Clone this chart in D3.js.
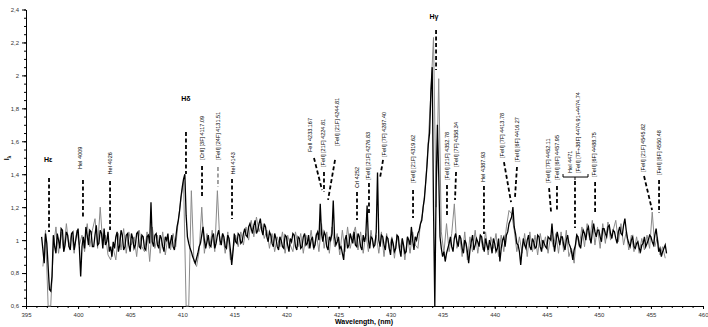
<!DOCTYPE html>
<html><head><meta charset="utf-8">
<script src="https://cdn.jsdelivr.net/npm/d3@7"></script>
<style>
body{margin:0;background:#fff}
svg{display:block;font-family:"Liberation Sans",Arial,sans-serif}
</style>
</head><body>
<svg id="chart" width="708" height="327"></svg>
<script>
// ---------- data ----------
const xMajorTicks = [395,400,405,410,415,420,425,430,435,440,445,450,455,460];
const yMajorTicks = [0.6,0.8,1.0,1.2,1.4,1.6,1.8,2.0,2.2,2.4];
const xLabel = "Wavelength, (nm)";

// black spectrum, read at 396.5 + 0.25·i nm
const blackStart = 396.5, blackStep = 0.25;
const blackValues = [
1.02,0.86,0.98,0.70,
0.78,0.96,1.04,0.95,
1.06,0.97,1.03,0.94,
1.05,0.99,1.07,0.78,
1.02,1.08,0.97,1.05,
0.96,1.09,0.98,1.04,
1.07,0.99,0.93,0.90,
0.95,1.05,0.97,1.03,
0.96,1.04,0.93,1.01,
0.97,1.05,0.95,1.02,
0.94,1.03,1.23,0.96,
1.04,0.95,1.01,0.93,
1.00,0.95,1.03,0.94,
1.08,1.18,1.32,1.40,
1.02,0.95,0.90,0.86,
0.92,0.98,1.08,0.95,
1.03,0.96,1.04,0.98,
1.06,0.97,1.02,0.95,
1.01,0.85,1.04,0.98,
1.03,0.99,1.07,1.02,
1.10,1.04,1.12,1.06,
1.13,1.03,1.08,0.99,
1.03,0.96,1.01,0.94,
1.00,0.95,1.02,0.93,
0.99,1.03,0.94,1.01,
0.96,1.04,0.98,0.95,
1.02,0.97,1.05,1.22,
0.99,1.03,0.94,1.00,
1.24,0.97,1.02,0.96,
0.88,1.03,0.97,1.01,
1.05,0.96,1.02,0.94,
0.99,1.21,0.95,1.01,
0.97,1.41,0.96,1.02,
0.94,1.01,0.91,0.98,
0.95,1.02,0.90,0.97,
0.93,1.00,1.08,0.94,
1.00,1.06,1.12,1.25,
1.45,1.65,2.05,0.60,
1.70,1.02,0.90,0.87,
0.95,1.02,0.93,1.04,
0.96,1.01,0.92,0.98,
0.86,0.99,0.94,1.01,
0.96,1.02,0.93,0.97,
1.00,0.92,0.98,0.95,
0.87,1.00,0.96,1.05,
1.12,1.20,1.04,0.97,
0.85,1.01,0.95,1.03,
0.94,0.99,0.96,1.02,
0.93,0.98,0.95,1.01,
1.10,0.93,1.05,0.97,
1.02,0.94,1.03,0.96,
0.88,0.97,1.02,0.95,
1.06,1.00,1.08,0.98,
1.10,1.02,1.06,0.99,
1.07,1.02,1.09,1.01,
1.05,0.98,1.08,1.03,
1.13,1.01,0.96,1.02,
0.95,0.99,0.93,0.98,
0.96,1.00,1.02,0.97,
1.07,0.93,0.90,0.95,
0.92
];
// black spectrum, read half-way between the samples above (396.625 + 0.25·i nm)
const blackBetween = [
0.94,1.04,0.84,0.69,
1.03,0.92,1.00,1.07,
0.93,1.05,0.96,1.04,
0.94,1.04,0.95,0.96,
0.95,1.03,1.06,0.96,
1.03,0.97,1.06,0.95,
0.97,1.05,0.96,0.99,
1.02,0.93,1.06,0.94,
1.03,0.97,1.04,0.95,
1.04,0.96,1.03,0.95,
1.02,0.98,0.99,1.03,
0.97,1.03,0.96,1.02,
1.04,0.99,0.96,1.01,
1.12,1.26,1.37,1.15,
0.98,0.93,0.88,0.89,
0.96,1.03,1.00,0.99,
0.97,1.02,0.95,1.03,
1.00,1.04,0.96,1.03,
0.94,0.93,0.99,1.04,
0.98,1.04,1.03,1.08,
1.07,1.09,1.04,1.10,
1.06,1.10,1.02,1.05,
0.98,1.04,0.96,1.02,
0.96,1.03,0.97,1.01,
1.04,0.96,1.02,0.95,
1.02,0.97,1.03,1.00,
0.95,1.03,1.00,1.04,
1.05,0.96,1.02,1.04,
1.02,0.99,0.95,0.92,
1.00,0.95,1.04,0.98,
0.97,1.04,0.96,1.03,
1.03,1.00,1.02,0.96,
1.05,1.00,1.03,0.97,
1.02,0.95,1.01,0.93,
1.03,0.94,1.01,0.92,
1.02,0.97,1.00,1.02,
1.04,1.10,1.20,1.35,
1.58,1.90,1.20,1.30,
1.40,0.95,0.93,0.92,
0.98,0.96,1.01,0.99,
1.03,0.95,1.00,0.93,
0.94,1.03,0.97,0.99,
1.03,0.96,1.01,0.94,
0.97,1.01,0.93,1.01,
0.95,1.02,1.03,1.10,
1.14,1.08,0.98,0.93,
0.94,0.97,1.00,0.96,
1.01,0.95,1.03,0.96,
1.00,0.96,1.02,1.00,
1.00,0.99,1.01,1.02,
0.97,1.00,0.98,0.93,
0.94,1.03,0.97,1.02,
1.04,1.06,1.02,1.05,
1.05,1.06,1.02,1.07,
1.04,1.08,1.04,1.06,
1.01,1.05,1.04,1.09,
1.06,0.98,1.00,0.96,
0.98,0.95,0.97,1.02,
0.98,1.03,0.99,1.03,
1.00,0.95,0.93,0.97
];

// grey spectrum, read at 396.625 + 0.25·i nm
const greyStart = 396.625, greyStep = 0.25;
const greyValues = [
0.84,1.06,0.60,0.60,
0.95,1.08,0.92,1.05,
0.93,1.10,0.96,1.04,
0.92,1.06,0.97,1.03,
0.93,1.10,0.96,1.06,
1.13,0.95,1.20,0.97,
1.03,0.91,0.88,0.95,
0.88,1.04,0.94,1.07,
0.92,1.05,0.97,1.02,
0.90,1.06,0.96,0.93,
1.05,0.87,1.08,0.95,
1.03,0.92,1.05,0.91,
1.02,0.94,1.04,0.96,
1.12,1.25,1.36,0.60,
0.60,1.30,0.87,0.84,
0.93,1.20,0.92,1.04,
0.95,1.06,0.93,1.30,
0.97,1.04,0.92,1.05,
0.88,0.94,1.03,0.96,
1.05,0.97,1.08,1.00,
1.12,1.02,1.14,1.05,
1.10,1.01,1.06,0.95,
1.04,0.93,1.02,0.96,
1.05,0.92,1.03,0.97,
0.93,1.05,0.96,1.04,
0.92,1.03,0.95,1.06,
0.94,1.04,0.93,1.10,
0.95,1.05,0.92,1.08,
0.96,1.04,0.91,1.06,
0.93,1.08,0.95,1.03,
1.08,0.94,1.05,0.92,
1.04,0.93,1.06,0.95,
1.03,0.92,1.05,0.90,
1.04,0.95,1.02,0.89,
1.03,0.94,1.01,0.88,
1.02,0.92,1.05,0.97,
0.95,1.10,1.18,1.35,
1.60,1.90,2.23,1.20,
1.98,1.05,0.92,1.10,
0.93,1.04,1.22,0.95,
1.03,0.90,1.05,0.88,
1.02,0.93,1.06,0.92,
1.03,0.94,1.05,0.91,
1.02,0.95,1.04,0.90,
1.03,0.93,1.08,1.18,
1.16,1.06,0.93,1.02,
0.92,1.04,0.90,1.05,
0.93,1.03,0.91,1.04,
0.95,1.02,0.92,1.03,
0.96,1.04,0.92,1.05,
0.93,1.06,0.90,0.95,
0.86,1.04,0.96,1.08,
0.96,1.10,1.00,1.12,
0.97,1.08,0.95,1.10,
0.98,1.11,1.00,1.06,
1.12,0.99,1.10,0.97,
1.05,0.94,1.03,0.93,
1.02,0.92,1.01,0.94,
1.03,0.95,1.17,0.96,
1.02,0.91,0.96,0.89
];

// line identifications
const lineNames = [
"Hε","HeI 4009","HeI 4026","Hδ","[CrII] [3F] 4117.09","[FeII] [24F] 4131.51","HeI 4143",
"FeII 4233.167","[FeII] [21F] 4224.81","[FeII] [21F] 4244.81","CrI 4252","[FeII] [21F] 4276.83",
"[FeII] [7F] 4287.40","[FeII] [21F] 4319.62","Hγ","[FeII] [21F] 4352.78","[FeII] [7F] 4358.34",
"HeI 4387.93","[FeII] [7F] 4413.78","[FeII] [6F] 4416.27","[FeII] [7F] 4452.11","[FeII] [6F] 4457.95",
"HeI 4471","[FeII] [7F+38F] 4474.91+4474.74","[FeII] [6F] 4488.75","[FeII] [21F] 4545.82","[FeII] [6F] 4550.48"
];

// ---------- annotation layout (data units: wavelength, intensity) ----------
// [textλ, textI, horizontal?, line λ1, I1, λ2, I2, grey?]
const annLayout = [
[397.12,1.474,1, 397.21,1.377,397.21,1.049,0],
[400.23,1.432,0, 400.47,1.365,400.47,1.140,0],
[403.11,1.398,0, 403.07,1.359,403.07,1.061,0],
[410.36,1.845,1, 410.36,1.657,410.36,1.402,0],
[411.90,1.487,0, 411.90,1.450,411.90,1.262,0],
[413.43,1.487,0, 413.43,1.444,413.43,1.323,1],
[414.88,1.398,0, 414.78,1.371,414.78,1.128,0],
[422.26,1.535,0, 422.65,1.499,423.42,1.304,0],
[423.52,1.444,0, 423.61,1.414,423.61,1.292,0],
[424.86,1.572,0, 424.67,1.487,424.00,1.244,0],
[426.78,1.316,0, 426.78,1.292,426.78,1.122,0],
[427.84,1.365,0, 427.93,1.347,427.93,1.165,0],
[429.37,1.505,0, 429.28,1.487,428.99,1.377,0],
[432.16,1.347,0, 432.16,1.304,432.16,1.134,0],
[434.17,2.343,1, 434.37,2.276,434.37,2.033,0],
[435.42,1.365,0, 435.42,1.335,435.42,1.146,0],
[436.29,1.444,0, 436.29,1.414,436.19,1.244,0],
[438.88,1.353,0, 438.97,1.329,438.97,1.037,0],
[440.70,1.499,0, 440.89,1.474,441.57,1.231,0],
[442.14,1.474,0, 442.14,1.444,441.95,1.262,0],
[445.12,1.347,0, 445.22,1.316,445.41,1.171,0],
[445.98,1.365,0, 445.98,1.329,445.98,1.171,0],
[447.23,1.408,0, null,null,null,null,0],
[448.00,1.408,0, 447.71,1.359,447.71,1.074,0],
[449.54,1.383,0, 449.64,1.353,449.64,1.165,0],
[454.24,1.414,0, 454.34,1.389,455.11,1.183,0],
[455.78,1.395,0, 455.78,1.365,455.78,1.165,0]
];
const braceLayout = [446.56, 448.96, 1.383, 447.71];

// ---------- drawing ----------
const svg = d3.select("#chart");
const x = d3.scaleLinear().domain([395,460]).range([26,703]);
const y = d3.scaleLinear().domain([0.6,2.4]).range([306,9.5]);

const fmtY = d => String(+d.toFixed(1)).replace(".", ",");

const xMinor = d3.range(395,461,1);
const yMinor = d3.range(0.6,2.4001,0.05).map(v=>+v.toFixed(2));

svg.append("g").attr("transform","translate(0,306)")
  .call(d3.axisBottom(x).tickValues(xMinor).tickSize(2).tickFormat("").tickSizeOuter(0))
  .call(g=>g.select(".domain").remove());
svg.append("g").attr("transform","translate(26,0)")
  .call(d3.axisLeft(y).tickValues(yMinor).tickSize(2).tickFormat("").tickSizeOuter(0))
  .call(g=>g.select(".domain").remove());

const gx = svg.append("g").attr("transform","translate(0,306)")
  .call(d3.axisBottom(x).tickValues(xMajorTicks).tickSize(3).tickPadding(4).tickSizeOuter(0).tickFormat(d=>d));
const gy = svg.append("g").attr("transform","translate(26,0)")
  .call(d3.axisLeft(y).tickValues(yMajorTicks).tickSize(4).tickPadding(3).tickSizeOuter(0).tickFormat(fmtY));
[gx,gy].forEach(g=>{
  g.selectAll("text").attr("font-size",6).attr("fill","#333").attr("font-family","Liberation Sans, Arial, sans-serif");
  g.selectAll("line,path").attr("stroke","#000");
});

// spectra
const greyPts = greyValues.map((v,i)=>[greyStart+i*greyStep, v]);
const blackPts = [];
blackValues.forEach((v,i)=>{
  blackPts.push([blackStart+i*blackStep, v]);
  if (i < blackBetween.length) blackPts.push([blackStart+(i+0.5)*blackStep, blackBetween[i]]);
});
const line = d3.line().x(d=>x(d[0])).y(d=>y(d[1]));
svg.append("path").attr("d",line(greyPts)).attr("fill","none").attr("stroke","#8a8a8a").attr("stroke-width",1);
svg.append("path").attr("d",line(blackPts)).attr("fill","none").attr("stroke","#000").attr("stroke-width",1.3);

// annotations
const ann = svg.append("g");
annLayout.forEach((a,i)=>{
  const [tl,tv,hor,l1,v1,l2,v2,grey] = a;
  if (l1 !== null) {
    ann.append("line")
      .attr("x1",x(l1)).attr("y1",y(v1)).attr("x2",x(l2)).attr("y2",y(v2))
      .attr("stroke", grey ? "#999" : "#000").attr("stroke-width",1.8)
      .attr("stroke-dasharray","4,2.5");
  }
  if (hor) {
    ann.append("text").attr("x",x(tl)).attr("y",y(tv))
      .attr("text-anchor","middle").attr("font-size",7).attr("font-weight","bold")
      .text(lineNames[i]);
  } else {
    ann.append("text")
      .attr("transform",`translate(${x(tl)},${y(tv)}) rotate(-90)`)
      .attr("dy","0.35em").attr("font-size",5.5)
      .text(lineNames[i]);
  }
});
{
  const [b1,b2,bv,bc] = braceLayout;
  const yb = y(bv);
  ann.append("path")
    .attr("d",`M${x(b1)},${yb-3}V${yb}H${x(b2)}V${yb-3}M${x(bc)},${yb}v3`)
    .attr("fill","none").attr("stroke","#000").attr("stroke-width",1);
}

// axis titles
svg.append("text").attr("x",364).attr("y",324).attr("text-anchor","middle")
  .attr("font-size",7).attr("font-weight","bold").text(xLabel);
const yl = svg.append("text").attr("transform","translate(9,158) rotate(-90)")
  .attr("text-anchor","middle").attr("font-size",7).attr("font-weight","bold");
yl.append("tspan").text("I");
yl.append("tspan").attr("font-size",5).attr("dy",2).text("λ");
</script>
</body></html>
